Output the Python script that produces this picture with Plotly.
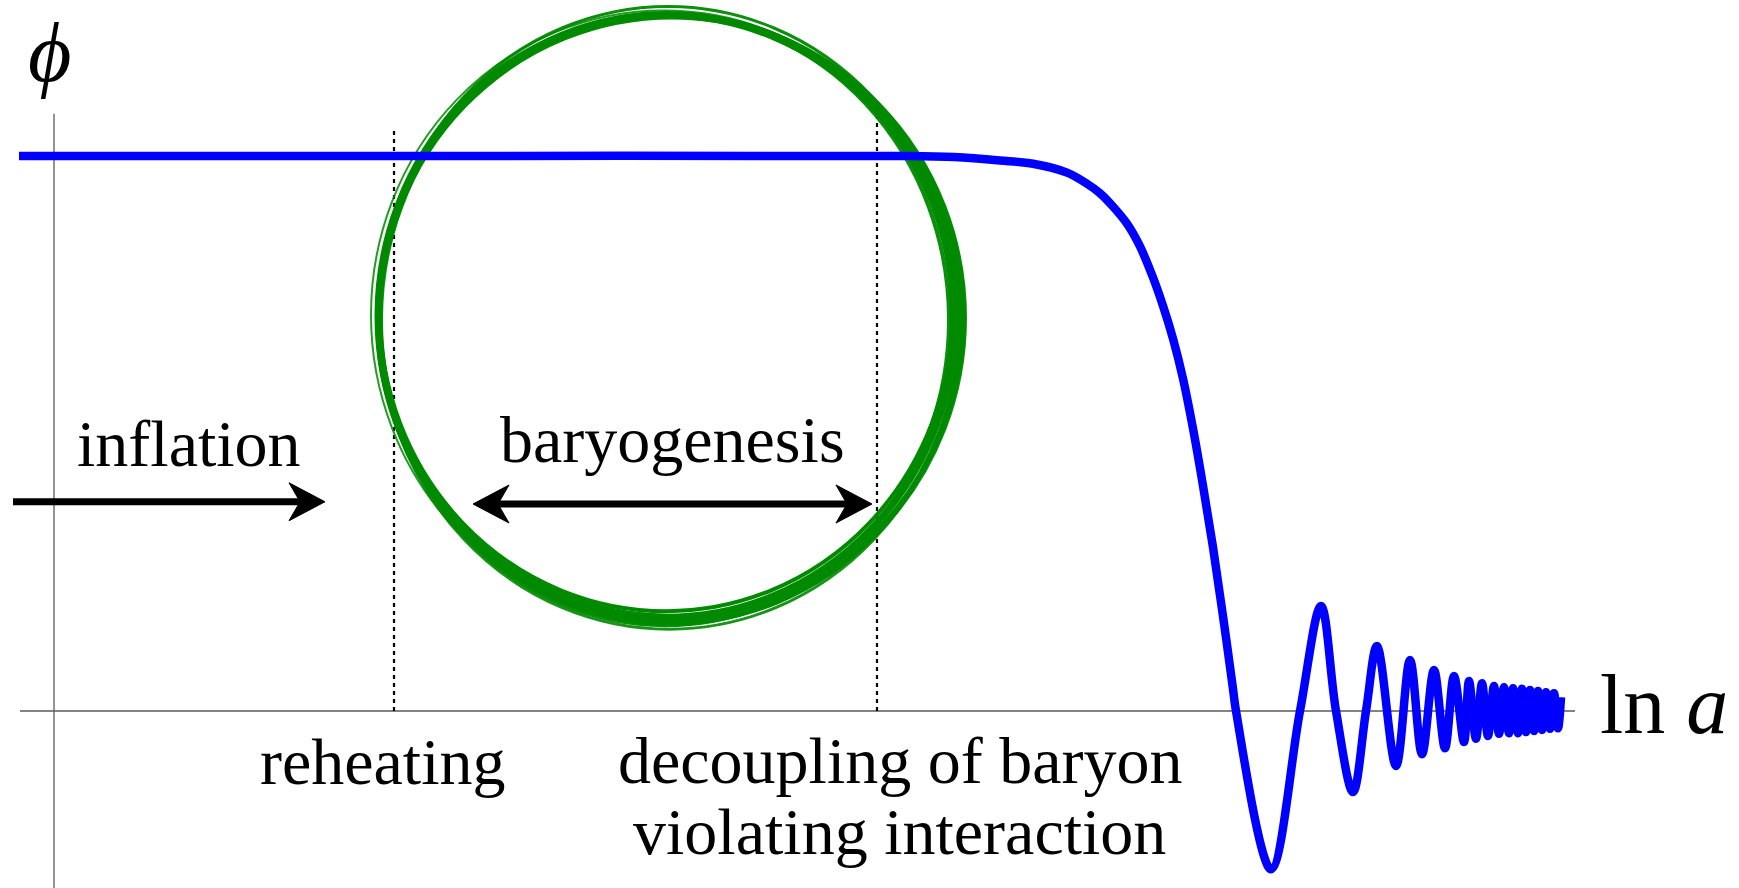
import plotly.graph_objects as go

# ---- canvas / coordinate frame -------------------------------------------
W, H = 1739, 888
X_RANGE = [-0.54, 16.85]          # ln a
Y_RANGE = [-0.3189, 1.2811]       # phi
PX_X = W / (X_RANGE[1] - X_RANGE[0])   # pixels per unit of ln a
PX_Y = H / (Y_RANGE[1] - Y_RANGE[0])   # pixels per unit of phi

# ---- field trajectory phi(ln a) ------------------------------------------
ln_a = [-0.35, 4.00, 8.50, 9.00, 9.46, 9.79, 10.13, 10.33, 10.46, 10.59,
        10.73, 10.86, 10.99, 11.09, 11.19, 11.29, 11.39, 11.49, 11.59, 11.69,
        11.79, 11.82, 12.17, 12.46, 12.67, 12.82, 12.99, 13.12, 13.23, 13.42,
        13.56, 13.68, 13.80, 13.91, 14.00, 14.10, 14.15, 14.22, 14.28, 14.34,
        14.40, 14.45, 14.50, 14.55, 14.59, 14.64, 14.68, 14.72, 14.76, 14.80,
        14.84, 14.88, 14.92, 14.96, 15.00, 15.04, 15.07]
phi = [1.000, 1.000, 1.000, 0.998, 0.992, 0.986, 0.970, 0.950, 0.933, 0.909,
       0.878, 0.837, 0.781, 0.730, 0.671, 0.599, 0.509, 0.406, 0.295, 0.171,
       0.040, 0.000, -0.285, 0.000, 0.189, 0.000, -0.146, 0.000, 0.117, -0.099,
       0.092, -0.078, 0.074, -0.067, 0.063, -0.056, 0.054, -0.050, 0.050, -0.045,
       0.045, -0.041, 0.043, -0.040, 0.041, -0.040, 0.040, -0.038, 0.038, -0.036,
       0.036, -0.034, 0.034, -0.032, 0.032, -0.031, 0.025]

# ---- epochs ---------------------------------------------------------------
reheating_x = 3.40
decoupling_x = 8.23
marker_tops = [1.045, 1.072]

inflation_arrow = (-0.41, 2.71, 0.377)      # x start, x end, phi
baryogenesis_arrow = (4.19, 8.18, 0.373)

# baryogenesis ring: centre and radii (ln a, phi)
ring_center = (6.13, 0.712)
ring_radii = (2.89, 0.543)

labels = {
    "inflation": "inflation",
    "baryogenesis": "baryogenesis",
    "reheating": "reheating",
    "decoupling1": "decoupling of baryon",
    "decoupling2": "violating interaction",
}

BLUE = "#0000ff"
GREEN = "#008a00"
FONT = "Liberation Serif"

fig = go.Figure()

# axes
fig.add_shape(type="line", x0=-0.34, x1=15.21, y0=0, y1=0,
              line=dict(color="#5a5a5a", width=1.3), layer="below")
fig.add_shape(type="line", x0=0, x1=0, y0=Y_RANGE[0], y1=1.076,
              line=dict(color="#5a5a5a", width=1.3), layer="below")

# dotted epoch markers
for xv, top in zip([reheating_x, decoupling_x], marker_tops):
    fig.add_shape(type="line", x0=xv, x1=xv, y0=0, y1=top,
                  line=dict(color="black", width=2.2, dash="4px,4px"), layer="below")

# hand-drawn looking ring: several slightly offset strokes
# (dx px, dy px, drx px, dry px, width px, opacity)
strokes = [
    (0, 0, 0, 0, 7, 1.0),
    (3, 3, 2, 3, 5, 1.0),
    (-1, -2, -3, -4, 4, 1.0),
    (4, 2, 5, 1, 4, 0.95),
    (1, -3, -1, 5, 3, 0.95),
    (-2, 4, -5, 4, 4, 0.95),
    (5, 1, 3, -2, 4, 1.0),
    (2, 6, 1, 6, 3, 0.9),
    (-3, -1, 4, 3, 2, 0.85),
]
cx, cy = ring_center
rx, ry = ring_radii
for dx, dy, drx, dry, w, op in strokes:
    sx = cx + dx / PX_X
    sy = cy - dy / PX_Y
    srx = rx + drx / PX_X
    sry = ry + dry / PX_Y
    fig.add_shape(type="circle", x0=sx - srx, x1=sx + srx, y0=sy - sry, y1=sy + sry,
                  line=dict(color=GREEN, width=w), opacity=op, layer="below")

# field trajectory
fig.add_trace(go.Scatter(x=ln_a, y=phi, mode="lines",
                         line=dict(color=BLUE, width=8.5, shape="spline", smoothing=1.0),
                         hoverinfo="skip", showlegend=False))


def arrow_head(tip_x, y, direction):
    """Stealth style head as an SVG path in data coordinates."""
    L, notch, half = 36 / PX_X, 25 / PX_X, 19 / PX_Y
    d = direction
    return (f"M {tip_x} {y} L {tip_x - d * L} {y + half} "
            f"L {tip_x - d * notch} {y} L {tip_x - d * L} {y - half} Z")


def add_arrow(x0, x1, y, both=False):
    notch = 25 / PX_X
    start = x0 + (notch if both else 0)
    fig.add_shape(type="line", x0=start, x1=x1 - notch, y0=y, y1=y,
                  line=dict(color="black", width=7))
    fig.add_shape(type="path", path=arrow_head(x1, y, 1),
                  fillcolor="black", line=dict(color="black", width=1))
    if both:
        fig.add_shape(type="path", path=arrow_head(x0, y, -1),
                      fillcolor="black", line=dict(color="black", width=1))


add_arrow(*inflation_arrow)
add_arrow(*baryogenesis_arrow, both=True)


def text(x, baseline, s, size=66, xanchor="center"):
    # bottom of the text box sits one descent below the baseline
    fig.add_annotation(x=x, y=baseline - (0.22 * size + 1) / PX_Y, text=s,
                       xanchor=xanchor, yanchor="bottom", showarrow=False,
                       font=dict(family=FONT, size=size, color="black"))


text(1.35, 0.44, labels["inflation"])
text(6.18, 0.447, labels["baryogenesis"])
text(3.29, -0.132, labels["reheating"])
text(8.46, -0.130, labels["decoupling1"])
text(8.45, -0.259, labels["decoupling2"])
text(-0.05, 1.135, "<i>ϕ</i>", size=84)
text(15.44, -0.04, "ln <i>a</i>", size=84, xanchor="left")

fig.update_layout(
    width=W, height=H,
    margin=dict(l=0, r=0, t=0, b=0),
    paper_bgcolor="white", plot_bgcolor="white",
    xaxis=dict(range=X_RANGE, visible=False, fixedrange=True),
    yaxis=dict(range=Y_RANGE, visible=False, fixedrange=True),
    showlegend=False,
)

fig.write_html("out.html")
